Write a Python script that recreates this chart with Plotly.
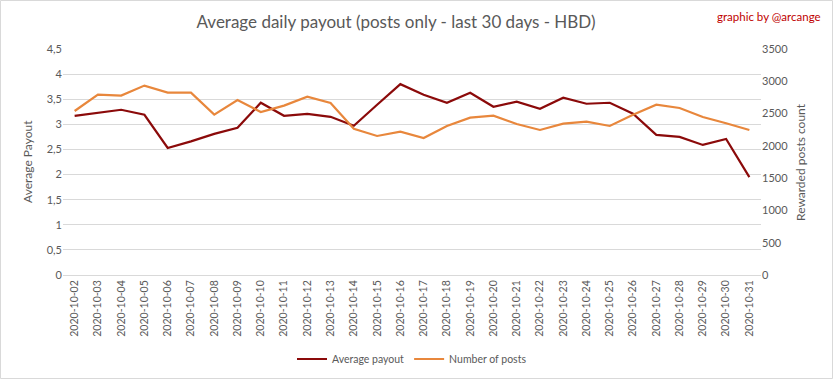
import plotly.graph_objects as go

dates = ["2020-10-%02d" % d for d in range(2, 32)]
avg_payout = [3.17, 3.23, 3.29, 3.19, 2.53, 2.66, 2.81, 2.93, 3.43, 3.17,
              3.21, 3.15, 2.97, 3.39, 3.80, 3.59, 3.43, 3.63, 3.35, 3.45,
              3.31, 3.53, 3.41, 3.43, 3.21, 2.79, 2.75, 2.59, 2.71, 1.95]
num_posts = [2540, 2793, 2778, 2933, 2824, 2824, 2483, 2711, 2525, 2623,
             2762, 2664, 2266, 2153, 2220, 2122, 2308, 2437, 2468, 2339,
             2246, 2344, 2375, 2308, 2483, 2638, 2587, 2447, 2350, 2246]
left_ticks = [0, 0.5, 1, 1.5, 2, 2.5, 3, 3.5, 4, 4.5]
left_labels = ["0", "0,5", "1", "1,5", "2", "2,5", "3", "3,5", "4", "4,5"]
right_ticks = [0, 500, 1000, 1500, 2000, 2500, 3000, 3500]

W, H = 833, 379
ml, mr, mt, mb = 63, 72, 49, 104
pw, ph = W - ml - mr, H - mt - mb

font = "Lato, 'Open Sans', sans-serif"
grey = "#595959"


def px(x):
    return (x - ml) / pw


def py(y):
    return (H - mb - y) / ph


fig = go.Figure()
fig.add_trace(go.Scatter(x=dates, y=avg_payout, name="Average payout", mode="lines",
                         line=dict(color="#8B0A0A", width=2.2), yaxis="y"))
fig.add_trace(go.Scatter(x=dates, y=num_posts, name="Number of posts", mode="lines",
                         line=dict(color="#E8873C", width=2.2), yaxis="y2"))

fig.update_layout(
    width=W, height=H,
    margin=dict(l=ml, r=mr, t=mt, b=mb, autoexpand=False),
    paper_bgcolor="white", plot_bgcolor="white",
    font=dict(family=font, color=grey, size=11),
    title=dict(text="Average daily payout (posts only - last 30 days - HBD)",
               x=396 / W, xanchor="center", y=1 - 22 / H, yanchor="middle",
               font=dict(size=17, color=grey, family=font)),
    xaxis=dict(type="category", tickangle=-90, showgrid=False, automargin=False,
               showline=True, linecolor="#D9D9D9", ticks="",
               tickfont=dict(size=10.5, color=grey), range=[-0.5, len(dates) - 0.5]),
    yaxis=dict(range=[0, 4.5], tickvals=left_ticks, ticktext=left_labels, automargin=False,
               showgrid=True, gridcolor="#D9D9D9", gridwidth=1, zeroline=False,
               ticks="", tickfont=dict(size=11, color=grey)),
    yaxis2=dict(range=[0, 3500], tickvals=right_ticks, overlaying="y", side="right",
                showgrid=False, zeroline=False, ticks="", automargin=False,
                tickfont=dict(size=11, color=grey)),
    legend=dict(orientation="h", x=0.5, xanchor="center", y=py(359), yanchor="middle",
                font=dict(size=10.5, color=grey), itemwidth=30, tracegroupgap=0),
    showlegend=True,
)

fig.add_annotation(text="Average Payout", xref="paper", yref="paper",
                   x=px(27), y=py(162), xanchor="center", yanchor="middle", textangle=-90,
                   showarrow=False, font=dict(size=12, color=grey, family=font))
fig.add_annotation(text="Rewarded posts count", xref="paper", yref="paper",
                   x=px(800), y=py(162), xanchor="center", yanchor="middle", textangle=-90,
                   showarrow=False, font=dict(size=12, color=grey, family=font))

fig.add_annotation(text="graphic by @arcange", xref="paper", yref="paper",
                   x=px(823), y=py(16), xanchor="right", yanchor="middle",
                   showarrow=False, font=dict(size=11.5, color="#C00000", family=font))

fig.add_shape(type="rect", xref="paper", yref="paper",
              x0=px(0.5), x1=px(W - 0.5), y0=py(H - 0.5), y1=py(0.5),
              line=dict(color="#D9D9D9", width=1), fillcolor="rgba(0,0,0,0)", layer="below")

fig.write_html("out.html", config={"displayModeBar": False},
               post_script="document.body.style.margin='0';document.body.style.overflow='hidden';")
